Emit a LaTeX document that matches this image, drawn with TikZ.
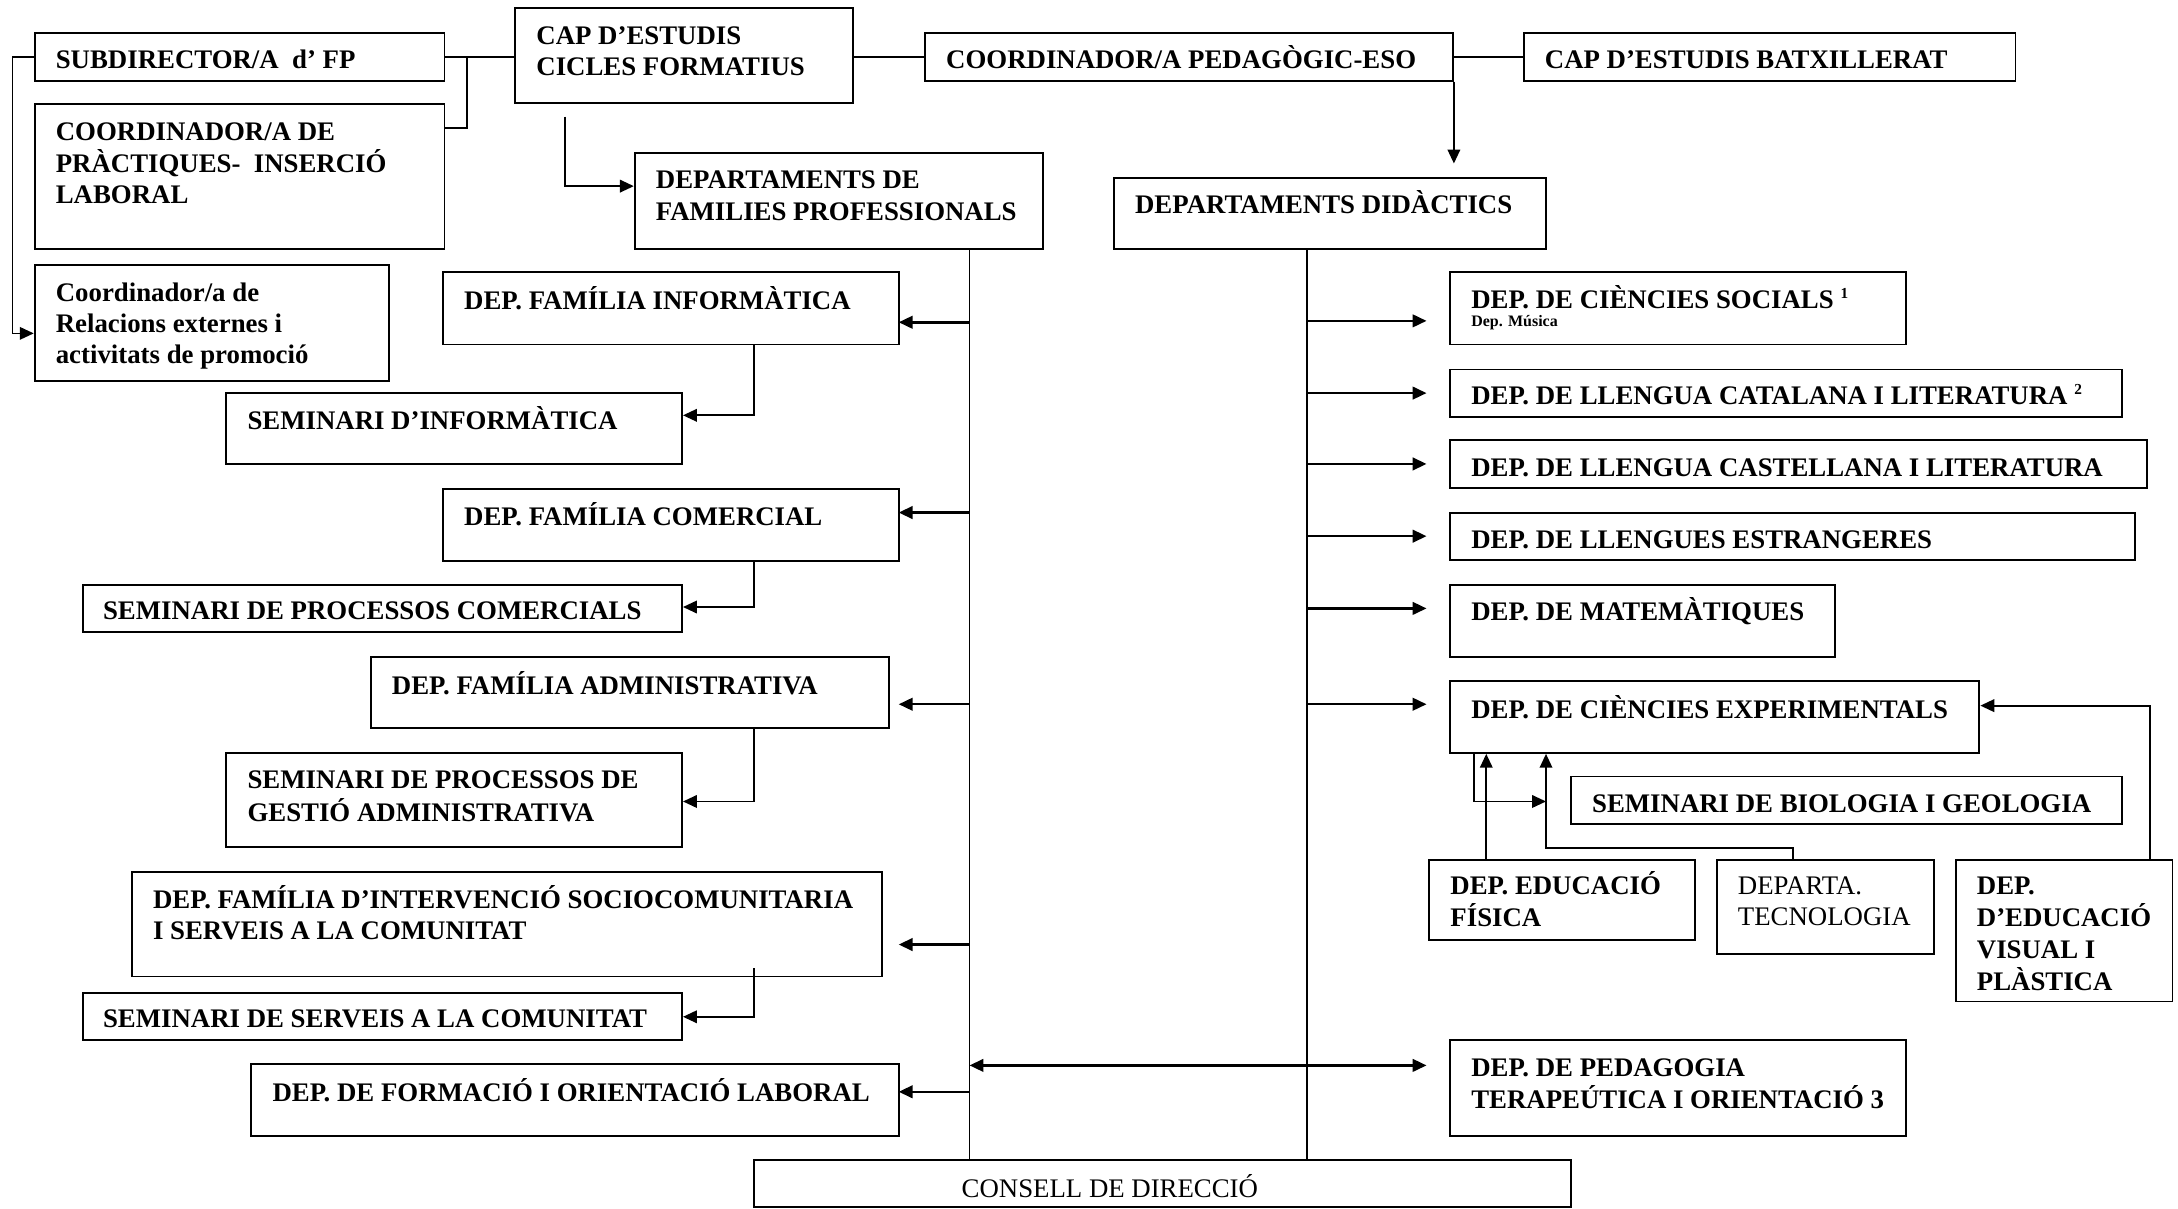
\documentclass[tikz,border=0pt]{standalone}
\usepackage{fontspec}
\setmainfont{Liberation Serif}
\usetikzlibrary{arrows.meta,fit}
\newcommand\ml[1]{\begin{tabular}[t]{@{}l@{}}#1\end{tabular}}
\newcommand\sups[1]{\raisebox{7pt}{\fontsize{11}{11}\selectfont #1}}
\newcommand\mkbox[5]{\coordinate (#1-a) at (#2,#3); \coordinate (#1-b) at (#4,#5); \node[box, fit=(#1-a)(#1-b)] (#1) {};}
\begin{document}
\begin{tikzpicture}[x=1pt,y=-1pt,
  box/.style={draw, line width=1.4pt, inner sep=0pt},
  txt/.style={anchor=base west, inner sep=0pt, font=\fontsize{19.3}{22.5}\selectfont\bfseries},
  rtxt/.style={anchor=base west, inner sep=0pt, font=\fontsize{19.3}{22.5}\selectfont},
  ln/.style={line width=1.2pt},
  tip/.style={-{Triangle[length=10pt,width=9pt]}},
  arr/.style={line width=1.8pt, tip},
  marr/.style={line width=1.4pt, tip}]
\useasboundingbox (0,0) rectangle (1568,870);
% boxes
\mkbox{sub}{25}{24}{320}{58}
\mkbox{prac}{25}{75}{320}{179}
\mkbox{rel}{25}{191}{280}{274}
\mkbox{capcf}{371}{6}{614}{74}
\mkbox{coordped}{666}{24}{1046}{58}
\mkbox{capbat}{1097}{24}{1451}{58}
\mkbox{depfam}{457}{110}{751}{179}
\mkbox{depdid}{802}{128}{1113}{179}
\mkbox{inf}{319}{196}{647}{248}
\mkbox{seminf}{163}{283}{491}{334}
\mkbox{com}{319}{352}{647}{404}
\mkbox{semcom}{60}{421}{491}{455}
\mkbox{adm}{267}{473}{640}{524}
\mkbox{semadm}{163}{542}{491}{610}
\mkbox{soc}{95}{628}{635}{703}
\mkbox{semsoc}{60}{715}{491}{749}
\mkbox{fol}{181}{766}{647}{818}
\mkbox{consell}{543}{835}{1131}{869}
\mkbox{csoc}{1044}{196}{1372}{248}
\mkbox{cat}{1044}{266}{1528}{300}
\mkbox{cast}{1044}{317}{1546}{351}
\mkbox{est}{1044}{369}{1537}{403}
\mkbox{mat}{1044}{421}{1321}{473}
\mkbox{cexp}{1044}{490}{1425}{542}
\mkbox{sembio}{1131}{559}{1528}{593}
\mkbox{ef}{1029}{619}{1220}{677}
\mkbox{tec}{1236}{619}{1392}{687}
\mkbox{vis}{1408}{619}{1564}{721}
\mkbox{pt}{1044}{749}{1372}{818}
% texts
\node[txt] (sub-t) at (40,49) {SUBDIRECTOR/A~ d’ FP};
\node[txt] (prac-t) at (40,101) {\ml{COORDINADOR/A DE\\PRÀCTIQUES-~ INSERCIÓ\\LABORAL}};
\node[txt] (rel-t) at (40,217) {\ml{Coordinador/a de\\Relacions externes i\\activitats de promoció}};
\node[txt] (capcf-t) at (386,32) {\ml{CAP D’ESTUDIS\\CICLES FORMATIUS}};
\node[txt] (coordped-t) at (681,49) {COORDINADOR/A PEDAGÒGIC-ESO};
\node[txt] (capbat-t) at (1112,49) {CAP D’ESTUDIS BATXILLERAT};
\node[txt] (depfam-t) at (472,136) {\ml{DEPARTAMENTS DE\\FAMILIES PROFESSIONALS}};
\node[txt] (depdid-t) at (817,154) {DEPARTAMENTS DIDÀCTICS};
\node[txt] (inf-t) at (334,223) {DEP. FAMÍLIA INFORMÀTICA};
\node[txt] (seminf-t) at (178,309) {SEMINARI D’INFORMÀTICA};
\node[txt] (com-t) at (334,378) {DEP. FAMÍLIA COMERCIAL};
\node[txt] (semcom-t) at (74,446) {SEMINARI DE PROCESSOS COMERCIALS};
\node[txt] (adm-t) at (282,500) {DEP. FAMÍLIA ADMINISTRATIVA};
\node[txt] (semadm-t) at (178,568) {\ml{SEMINARI DE PROCESSOS DE\\GESTIÓ ADMINISTRATIVA}};
\node[txt] (soc-t) at (110,654) {\ml{DEP. FAMÍLIA D’INTERVENCIÓ SOCIOCOMUNITARIA\\I SERVEIS A LA COMUNITAT}};
\node[txt] (semsoc-t) at (74,740) {SEMINARI DE SERVEIS A LA COMUNITAT};
\node[txt] (fol-t) at (196,793) {DEP. DE FORMACIÓ I ORIENTACIÓ LABORAL};
\node[rtxt, anchor=base] (consell-t) at (799,862) {CONSELL DE DIRECCIÓ};
\node[txt] (csoc-t) at (1059,222) {DEP. DE CIÈNCIES SOCIALS \sups{1}};
\node[txt, font=\fontsize{11.5}{12}\selectfont\bfseries] (csoc-s) at (1059,235) {Dep. Música};
\node[txt] (cat-t) at (1059,291) {DEP. DE LLENGUA CATALANA I LITERATURA \sups{2}};
\node[txt] (cast-t) at (1059,343) {DEP. DE LLENGUA CASTELLANA I LITERATURA};
\node[txt] (est-t) at (1059,395) {DEP. DE LLENGUES ESTRANGERES};
\node[txt] (mat-t) at (1059,447) {DEP. DE MATEMÀTIQUES};
\node[txt] (cexp-t) at (1059,517) {DEP. DE CIÈNCIES EXPERIMENTALS};
\node[txt] (sembio-t) at (1146,585) {SEMINARI DE BIOLOGIA I GEOLOGIA};
\node[txt] (ef-t) at (1044,644) {\ml{DEP. EDUCACIÓ\\FÍSICA}};
\node[rtxt] (tec-t) at (1251,644) {\ml{DEPARTA.\\TECNOLOGIA}};
\node[txt] (vis-t) at (1423,644) {\ml{DEP.\\D’EDUCACIÓ\\VISUAL I\\PLÀSTICA}};
\node[txt] (pt-t) at (1059,775) {\ml{DEP. DE PEDAGOGIA\\TERAPEÚTICA I ORIENTACIÓ 3}};
% helper coordinates
\coordinate (trunkL) at (698,0);
\coordinate (trunkR) at (941,0);
\coordinate (tipL) at (647,0);
\coordinate (tipR) at (1027,0);
\coordinate (sx) at (543,0);
\coordinate (cfdown) at (407,84);
\coordinate (relin) at (9,240);
\coordinate (pracj) at (336,41);
% top connectors
\draw[ln, tip] (sub.west) -| (relin) -- (rel.west |- relin);
\draw[ln] (sub.east) -- (capcf.west |- sub.east);
\draw[ln] (prac.east |- 0,92) -| (pracj);
\draw[ln] (capcf.east |- coordped.west) -- (coordped.west);
\draw[ln] (coordped.east) -- (capbat.west);
\draw[marr] (coordped.south east) -- ++(0,59);
\draw[marr] (cfdown) |- (depfam.west |- 0,134);
% trunks
\draw[ln] (depfam.south -| trunkL) -- (consell.north -| trunkL);
\draw[ln] (depdid.south -| trunkR) -- (consell.north -| trunkR);
% left arrows
\foreach \y in {232,369,507,680,786} \draw[arr] (trunkL |- 0,\y) -- (tipL |- 0,\y);
\draw[arr, {Triangle[length=10pt,width=9pt]}-{Triangle[length=10pt,width=9pt]}] (trunkL |- 0,767) -- (tipR |- 0,767);
% right arrows
\foreach \y in {231,283,334,386,438,507} \draw[arr] (trunkR |- 0,\y) -- (tipR |- 0,\y);
% seminar arrows
\draw[marr] (inf.south -| sx) |- (seminf.east |- 0,299);
\draw[marr] (com.south -| sx) |- (semcom.east |- 0,437);
\draw[marr] (adm.south -| sx) |- (semadm.east |- 0,577);
\draw[marr] (sx |- 0,697) |- (semsoc.east |- 0,732);
% ciencies experimentals group
\coordinate (cebio) at (1113,577);
\draw[marr] (cexp.south -| 1061,0) |- (cebio);
\draw[marr] (ef.north -| 1070,0) -- (cexp.south -| 1070,0);
\draw[marr] (tec.north -| 1291,0) -- ++(0,-8) -| (cexp.south -| cebio);
\draw[marr] (vis.north -| 1548,0) |- (cexp.east |- 0,508);
\end{tikzpicture}
\end{document}
